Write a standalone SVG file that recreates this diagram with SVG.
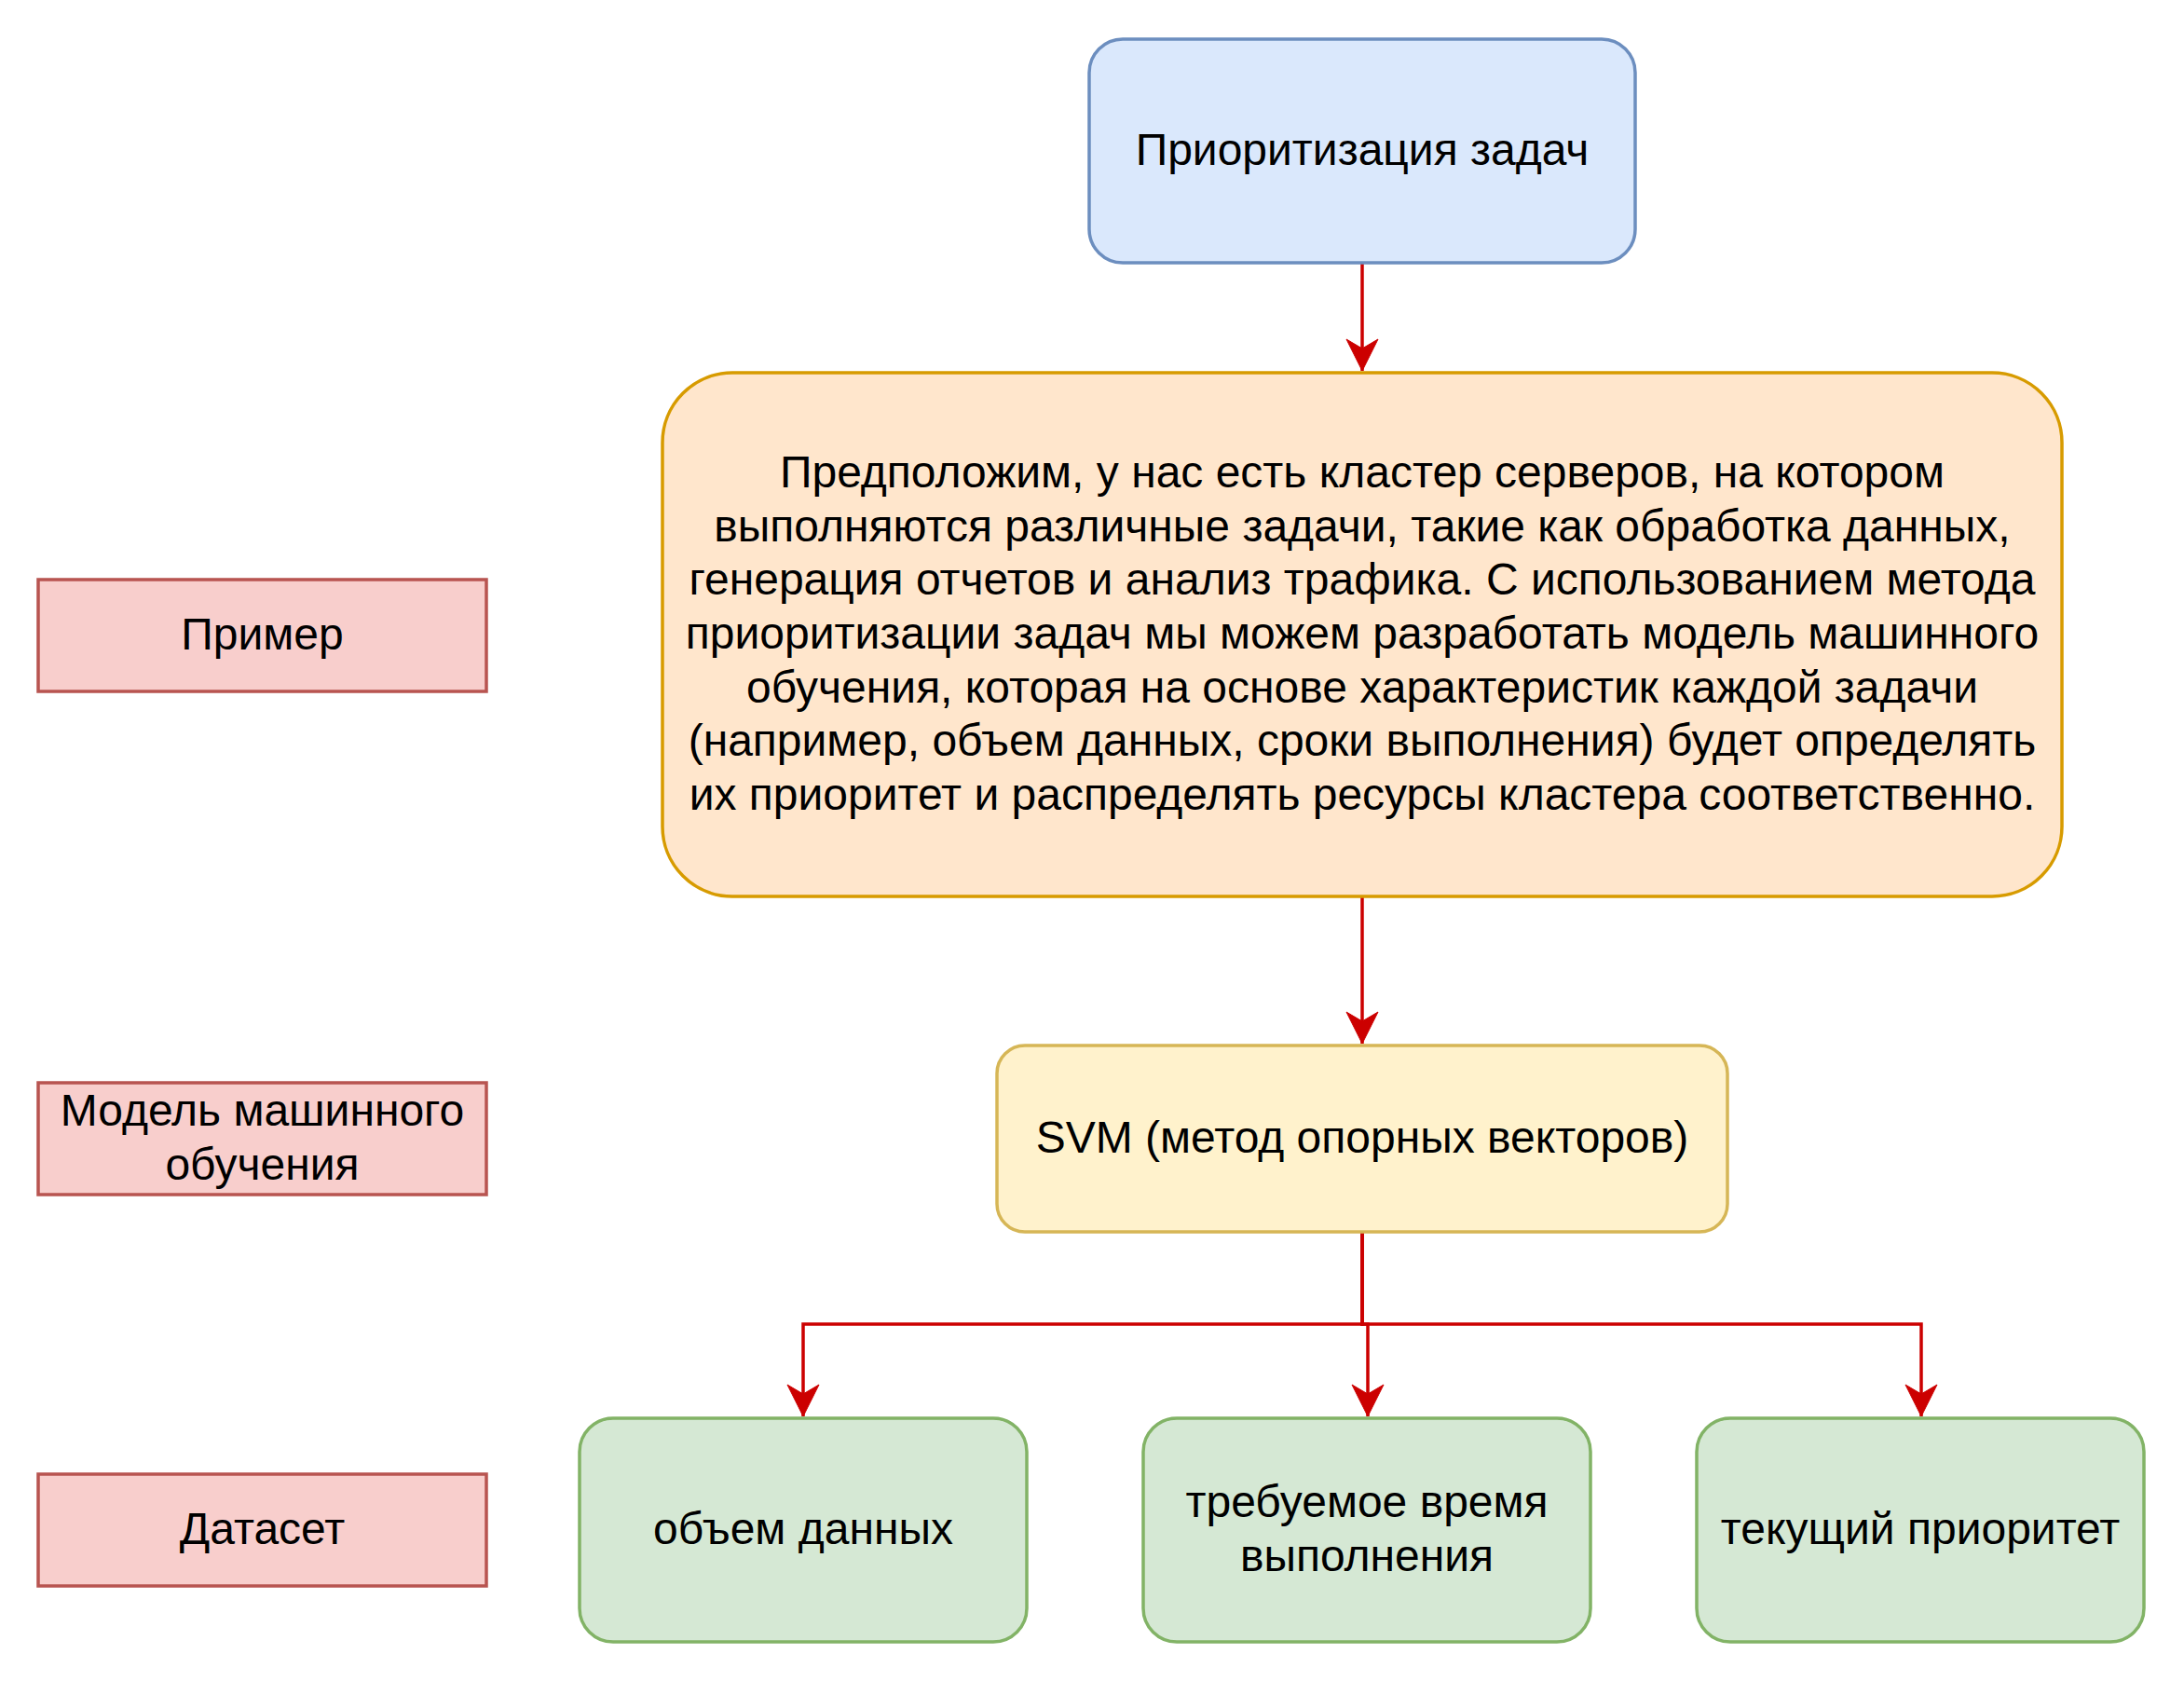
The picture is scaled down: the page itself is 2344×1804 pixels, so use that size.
<svg xmlns="http://www.w3.org/2000/svg" width="2344" height="1804" viewBox="0 0 2344 1804">
<style>
text{font-family:"Liberation Sans",Arial,Helvetica,sans-serif;font-size:48px;fill:#000;text-anchor:middle}
.blue{fill:#dae8fc;stroke:#6c8ebf;stroke-width:3.5}
.orange{fill:#ffe6cc;stroke:#d79b00;stroke-width:3.5}
.yellow{fill:#fff2cc;stroke:#d6b656;stroke-width:3.5}
.green{fill:#d5e8d4;stroke:#82b366;stroke-width:3.5}
.red{fill:#f8cecc;stroke:#b85450;stroke-width:3.5}
.edge{fill:none;stroke:#cc0000;stroke-width:3.5;marker-end:url(#arr)}
</style>
<defs>
<marker id="arr" markerUnits="userSpaceOnUse" viewBox="-36 -19 38 38" refX="0" refY="0" markerWidth="38" markerHeight="38" orient="auto">
<path d="M0,0 L-34,-17 L-24,0 L-34,17 Z" fill="#cc0000" stroke="#cc0000" stroke-width="1"/>
</marker>
</defs>
<rect width="2344" height="1804" fill="#fff"/>
<g id="connectors">
<path class="edge" d="M1462,282 V398"/>
<path class="edge" d="M1462,962 V1120"/>
<path class="edge" d="M1462,1322 V1421 H862 V1520"/>
<path class="edge" d="M1462,1322 V1421 H1468 V1520"/>
<path class="edge" d="M1462,1322 V1421 H2062 V1520"/>
</g>
<g id="node-top">
<rect class="blue" x="1169" y="42" width="586" height="240" rx="36"/>
<text x="1462" y="177">Приоритизация задач</text>
</g>
<g id="node-example">
<rect class="orange" x="711" y="400" width="1502" height="562" rx="75"/>
<text x="1462" y="523.2">Предположим, у нас есть кластер серверов, на котором</text>
<text x="1462" y="580.8">выполняются различные задачи, такие как обработка данных,</text>
<text x="1462" y="638.4">генерация отчетов и анализ трафика. С использованием метода</text>
<text x="1462" y="696">приоритизации задач мы можем разработать модель машинного</text>
<text x="1462" y="753.6">обучения, которая на основе характеристик каждой задачи</text>
<text x="1462" y="811.2">(например, объем данных, сроки выполнения) будет определять</text>
<text x="1462" y="868.8">их приоритет и распределять ресурсы кластера соответственно.</text>
</g>
<g id="node-svm">
<rect class="yellow" x="1070" y="1122" width="784" height="200" rx="30"/>
<text x="1462" y="1237">SVM (метод опорных векторов)</text>
</g>
<g id="node-volume">
<rect class="green" x="622" y="1522" width="480" height="240" rx="36"/>
<text x="862" y="1657">объем данных</text>
</g>
<g id="node-time">
<rect class="green" x="1227" y="1522" width="480" height="240" rx="36"/>
<text x="1467" y="1628.2">требуемое время</text>
<text x="1467" y="1685.8">выполнения</text>
</g>
<g id="node-priority">
<rect class="green" x="1821" y="1522" width="480" height="240" rx="36"/>
<text x="2061" y="1657">текущий приоритет</text>
</g>
<g id="label-example">
<rect class="red" x="41" y="622" width="481" height="120"/>
<text x="281.5" y="697">Пример</text>
</g>
<g id="label-model">
<rect class="red" x="41" y="1162" width="481" height="120"/>
<text x="281.5" y="1208.2">Модель машинного</text>
<text x="281.5" y="1265.8">обучения</text>
</g>
<g id="label-dataset">
<rect class="red" x="41" y="1582" width="481" height="120"/>
<text x="281.5" y="1657">Датасет</text>
</g>
</svg>
